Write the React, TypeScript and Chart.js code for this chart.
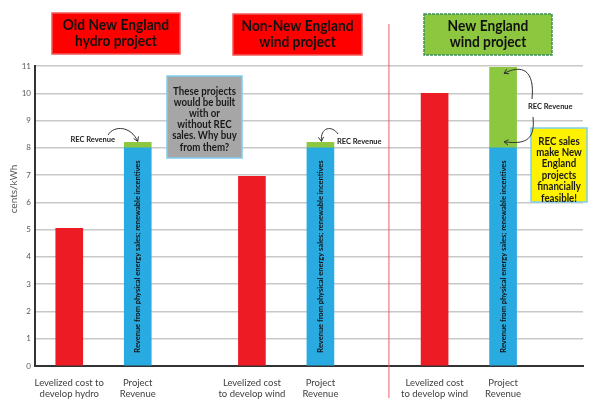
import { useEffect, useRef } from "react";
import { Chart, registerables } from "chart.js";

Chart.register(...registerables);

// ---- data ----
const categories: string[][] = [
  ["Levelized cost to", "develop hydro"],
  ["Project", "Revenue"],
  ["Levelized cost", "to develop wind"],
  ["Project", "Revenue"],
  ["Levelized cost", "to develop wind"],
  ["Project", "Revenue"],
];
// category slots on a 24-slot axis (empty slots are spacing between groups)
const categorySlots = [1, 4, 9, 12, 17, 20];
const slotCount = 24;
const dividerSlot = 15;

const levelizedCost = [5.05, null, 6.95, null, 10, null];
const physicalRevenue = [null, 8, null, 8, null, 8];
const recRevenue = [null, 0.2, null, 0.2, null, 2.95];

const yMin = 0;
const yMax = 11;
const yStep = 1;
const yTitle = "cents/kWh";

const projectTitles: string[][] = [
  ["Old New England", "hydro project"],
  ["Non-New England", "wind project"],
  ["New England", "wind project"],
];
const revenueNote = "Revenue from physical energy sales; renewable incentives";
const recLabel = "REC Revenue";
const grayCallout = ["These projects", "would be built", "with or", "without REC", "sales. Why buy", "from them?"];
const yellowCallout = ["REC sales", "make New", "England", "projects", "financially", "feasible!"];

// ---- helpers ----
const FONT = "Lato, 'Open Sans', sans-serif";

function spread(values: (number | null)[]) {
  const out: (number | null)[] = new Array(slotCount).fill(null);
  categorySlots.forEach((s, i) => (out[s] = values[i]));
  return out;
}
const slotLabels: (string | string[])[] = new Array(slotCount).fill("");
categorySlots.forEach((s, i) => (slotLabels[s] = categories[i]));

function box(ctx: CanvasRenderingContext2D, x: number, y: number, w: number, h: number, fill: string, stroke: string, lw: number, dash: number[] = []) {
  ctx.save();
  ctx.fillStyle = fill;
  ctx.fillRect(x, y, w, h);
  ctx.setLineDash(dash);
  ctx.strokeStyle = stroke;
  ctx.lineWidth = lw;
  ctx.strokeRect(x, y, w, h);
  ctx.restore();
}

// centered text lines, optionally condensed horizontally (Calibri-like width)
function lines(ctx: CanvasRenderingContext2D, text: string[], cx: number, y0: number, lh: number, font: string, color: string, hScale = 1) {
  ctx.save();
  ctx.translate(cx, y0);
  ctx.scale(hScale, 1);
  ctx.font = font;
  ctx.fillStyle = color;
  ctx.textAlign = "center";
  ctx.textBaseline = "middle";
  text.forEach((t, i) => ctx.fillText(t, 0, i * lh));
  ctx.restore();
}

function arrowHead(ctx: CanvasRenderingContext2D, tx: number, ty: number, fx: number, fy: number, size = 5) {
  const a = Math.atan2(ty - fy, tx - fx);
  ctx.beginPath();
  ctx.moveTo(tx - size * Math.cos(a - 0.55), ty - size * Math.sin(a - 0.55));
  ctx.lineTo(tx, ty);
  ctx.lineTo(tx - size * Math.cos(a + 0.55), ty - size * Math.sin(a + 0.55));
  ctx.stroke();
}

function curveArrow(ctx: CanvasRenderingContext2D, p: number[], head = true) {
  const [x0, y0, c1x, c1y, c2x, c2y, x1, y1] = p;
  ctx.beginPath();
  ctx.moveTo(x0, y0);
  ctx.bezierCurveTo(c1x, c1y, c2x, c2y, x1, y1);
  ctx.stroke();
  if (head) arrowHead(ctx, x1, y1, c2x, c2y);
}

const annotationPlugin = {
  id: "annotations",
  afterDatasetsDraw(chart: any) {
    const ctx: CanvasRenderingContext2D = chart.ctx;
    const xs = chart.scales.x;
    const blueMeta = chart.getDatasetMeta(1);
    const greenMeta = chart.getDatasetMeta(2);

    // divider
    const dx = xs.getPixelForValue(dividerSlot);
    ctx.save();
    ctx.strokeStyle = "rgba(240,90,110,0.75)";
    ctx.lineWidth = 1.3;
    ctx.beginPath();
    ctx.moveTo(dx, 24);
    ctx.lineTo(dx, 398);
    ctx.stroke();
    ctx.restore();

    // vertical notes inside blue bars
    [1, 3, 5].forEach((i) => {
      const el = blueMeta.data[categorySlots[i]];
      if (!el) return;
      ctx.save();
      ctx.translate(el.x, (el.y + el.base) / 2);
      ctx.rotate(-Math.PI / 2);
      ctx.font = `bold 7.5px ${FONT}`;
      ctx.fillStyle = "#111";
      ctx.textAlign = "center";
      ctx.textBaseline = "middle";
      ctx.fillText(revenueNote, 0, 0);
      ctx.restore();
    });

    // title boxes
    const tf = `bold 16px ${FONT}`;
    box(ctx, 52, 13, 128, 41, "#ff0000", "#f25a5a", 1.5);
    lines(ctx, projectTitles[0], 116, 25, 16, tf, "#111", 0.86);
    box(ctx, 233, 14, 129, 41, "#ff0000", "#f25a5a", 1.5);
    lines(ctx, projectTitles[1], 297.5, 26, 16, tf, "#111", 0.86);
    box(ctx, 424, 14, 128, 41, "#8dc63f", "#3f8f55", 1.5, [3, 1]);
    lines(ctx, projectTitles[2], 488, 26, 16, tf, "#111", 0.86);

    // callouts
    const cf = `bold 11px ${FONT}`;
    box(ctx, 167, 76, 75, 82, "#a6a6a6", "#7fcdee", 1.5);
    lines(ctx, grayCallout, 204.5, 91, 11.2, cf, "#1a1a1a", 0.88);
    box(ctx, 531, 128, 56, 74, "#fff200", "#7fcdee", 1.5);
    lines(ctx, yellowCallout, 559, 141, 11.4, cf, "#1a1a1a", 0.88);

    // REC labels & arrows
    ctx.save();
    ctx.strokeStyle = "#333";
    ctx.lineWidth = 1;
    ctx.font = `bold 7.5px ${FONT}`;
    ctx.fillStyle = "#222";
    ctx.textBaseline = "middle";

    const g1 = greenMeta.data[categorySlots[1]];
    ctx.textAlign = "right";
    ctx.fillText(recLabel, 115, 140);
    curveArrow(ctx, [108, 135, 114, 125, 131, 126, g1.x, g1.y - 1]);

    const g2 = greenMeta.data[categorySlots[3]];
    ctx.textAlign = "left";
    ctx.fillText(recLabel, 337, 142);
    curveArrow(ctx, [338, 134, 332, 125, 320, 127, g2.x + 1, g2.y - 1]);

    const g3 = greenMeta.data[categorySlots[5]];
    ctx.fillText(recLabel, 528, 107);
    curveArrow(ctx, [532, 99, 535, 70, 522, 64, g3.x + 1, g3.y + 6]);
    const b3 = blueMeta.data[categorySlots[5]];
    curveArrow(ctx, [533, 117, 535, 138, 528, 145, b3.x + 1, b3.y - 6]);
    ctx.restore();
  },
  afterDraw(chart: any) {
    const ctx: CanvasRenderingContext2D = chart.ctx;
    ctx.save();
    ctx.translate(14, 189);
    ctx.rotate(-Math.PI / 2);
    ctx.font = `10px ${FONT}`;
    ctx.fillStyle = "#595959";
    ctx.textAlign = "center";
    ctx.textBaseline = "middle";
    ctx.fillText(yTitle, 0, 0);
    ctx.restore();
  },
};

export default function App() {
  const ref = useRef<HTMLCanvasElement | null>(null);
  useEffect(() => {
    if (!ref.current) return;
    const chart = new Chart(ref.current, {
      type: "bar",
      data: {
        labels: slotLabels as any,
        datasets: [
          { label: "Levelized cost", data: spread(levelizedCost), backgroundColor: "#ed1c24", barThickness: 27, stack: "s" },
          { label: "Physical revenue", data: spread(physicalRevenue), backgroundColor: "#29abe2", barThickness: 27, stack: "s" },
          { label: "REC revenue", data: spread(recRevenue), backgroundColor: "#8dc63f", barThickness: 27, stack: "s" },
        ],
      },
      options: {
        responsive: false,
        animation: false,
        layout: { padding: { top: 66, right: 17, left: 0, bottom: 0 } },
        plugins: { legend: { display: false }, tooltip: { enabled: false } },
        scales: {
          x: {
            stacked: true,
            grid: { display: false },
            border: { display: true, color: "#333", width: 2 },
            ticks: {
              autoSkip: false,
              maxRotation: 0,
              minRotation: 0,
              padding: 3,
              color: "#404040",
              font: { family: FONT, size: 9.5 },
            },
            afterFit: (s: any) => {
              s.height = 36;
            },
          },
          y: {
            stacked: true,
            min: yMin,
            max: yMax,
            ticks: { stepSize: yStep, color: "#595959", padding: 4, font: { family: FONT, size: 8 } },
            grid: { color: "#c8c8c8", lineWidth: 1.5, drawTicks: false },
            border: { display: true, color: "#333", width: 2 },
            afterFit: (s: any) => {
              s.width = 35;
            },
          },
        },
      },
      plugins: [annotationPlugin],
    });
    return () => chart.destroy();
  }, []);
  return (
    <div style={{ position: "fixed", left: 0, top: 0, width: 600, height: 402, background: "#fff" }}>
      <canvas ref={ref} width={600} height={402} />
    </div>
  );
}
